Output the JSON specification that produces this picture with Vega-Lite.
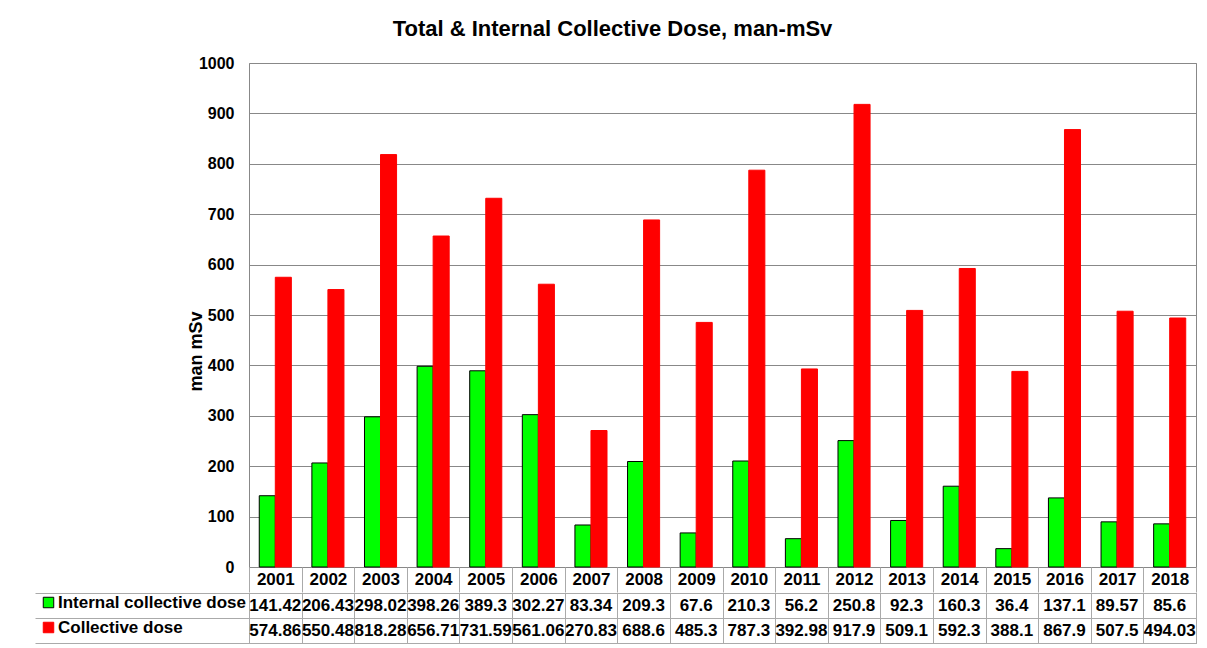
{
  "$schema": "https://vega.github.io/schema/vega-lite/v6.json",
  "padding": {"left": 34, "top": 17, "right": 10, "bottom": 5},
  "background": "white",
  "title": {"text": "Total & Internal Collective Dose, man-mSv", "fontSize": 22, "font": "Liberation Sans", "fontWeight": "bold", "offset": 14, "anchor": "middle", "dx": -3, "color": "black"},
  "data": {"values": [
    {"year": "2001", "Internal collective dose": 141.42, "Collective dose": 574.86},
    {"year": "2002", "Internal collective dose": 206.43, "Collective dose": 550.48},
    {"year": "2003", "Internal collective dose": 298.02, "Collective dose": 818.28},
    {"year": "2004", "Internal collective dose": 398.26, "Collective dose": 656.71},
    {"year": "2005", "Internal collective dose": 389.3, "Collective dose": 731.59},
    {"year": "2006", "Internal collective dose": 302.27, "Collective dose": 561.06},
    {"year": "2007", "Internal collective dose": 83.34, "Collective dose": 270.83},
    {"year": "2008", "Internal collective dose": 209.3, "Collective dose": 688.6},
    {"year": "2009", "Internal collective dose": 67.6, "Collective dose": 485.3},
    {"year": "2010", "Internal collective dose": 210.3, "Collective dose": 787.3},
    {"year": "2011", "Internal collective dose": 56.2, "Collective dose": 392.98},
    {"year": "2012", "Internal collective dose": 250.8, "Collective dose": 917.9},
    {"year": "2013", "Internal collective dose": 92.3, "Collective dose": 509.1},
    {"year": "2014", "Internal collective dose": 160.3, "Collective dose": 592.3},
    {"year": "2015", "Internal collective dose": 36.4, "Collective dose": 388.1},
    {"year": "2016", "Internal collective dose": 137.1, "Collective dose": 867.9},
    {"year": "2017", "Internal collective dose": 89.57, "Collective dose": 507.5},
    {"year": "2018", "Internal collective dose": 85.6, "Collective dose": 494.03}
  ]},
  "transform": [{"fold": ["Internal collective dose", "Collective dose"], "as": ["series", "value"]}],
  "spacing": -3,
  "vconcat": [
    {
      "width": 947,
      "height": 504,
      "mark": {"type": "bar", "strokeWidth": 1},
      "encoding": {
        "x": {"field": "year", "type": "nominal", "scale": {"paddingInner": 0, "paddingOuter": 0},
          "axis": {"title": null, "labelAngle": 0, "labelFontSize": 17, "labelFontWeight": "bold", "labelColor": "black", "tickBand": "extent", "tickSize": 25, "tickColor": "#aaaaaa", "labelPadding": -21, "domain": false}},
        "xOffset": {"field": "series", "type": "nominal", "scale": {"domain": ["Internal collective dose", "Collective dose"], "paddingOuter": 0.64, "paddingInner": 0}},
        "y": {"field": "value", "type": "quantitative", "scale": {"domain": [0, 1000]},
          "axis": {"title": "man mSv", "format": "d", "values": [0, 100, 200, 300, 400, 500, 600, 700, 800, 900, 1000], "labelFontSize": 16, "labelFontWeight": "bold", "labelColor": "black", "ticks": false, "labelPadding": 15, "domain": false, "gridColor": "#888888", "gridOpacity": 1, "titleFontSize": 18, "titleFontWeight": "bold", "titlePadding": -7, "titleY": 288, "titleColor": "black"}},
        "color": {"field": "series", "type": "nominal", "scale": {"domain": ["Internal collective dose", "Collective dose"], "range": ["#00ff00", "#ff0000"]},
          "legend": {"orient": "none", "legendX": -209, "legendY": 531, "title": null, "labelFontSize": 17, "labelFontWeight": "bold", "labelColor": "black", "labelLimit": 400, "symbolType": "square", "symbolSize": 110, "rowPadding": 7, "symbolStrokeWidth": 1, "labelOffset": 1}},
        "stroke": {"field": "series", "type": "nominal", "scale": {"domain": ["Internal collective dose", "Collective dose"], "range": ["#000000", "#ff0000"]}}
      }
    },
    {
      "width": 947,
      "height": 50,
      "mark": {"type": "text", "fontSize": 17, "fontWeight": "bold", "color": "black"},
      "encoding": {
        "x": {"field": "year", "type": "nominal", "scale": {"paddingInner": 0, "paddingOuter": 0},
          "axis": {"title": null, "labels": false, "ticks": false, "domain": false, "grid": true, "tickBand": "extent", "gridColor": "#aaaaaa", "gridOpacity": 1}},
        "y": {"field": "series", "type": "nominal", "scale": {"domain": ["Internal collective dose", "Collective dose"], "paddingInner": 0, "paddingOuter": 0},
          "axis": {"title": null, "labels": false, "tickBand": "extent", "tickSize": 214, "tickColor": "#aaaaaa", "grid": true, "gridColor": "#aaaaaa", "gridOpacity": 1, "domain": false}},
        "text": {"field": "value", "type": "nominal"}
      }
    }
  ],
  "config": {"font": "Liberation Sans", "view": {"stroke": "#888888"}}
}
